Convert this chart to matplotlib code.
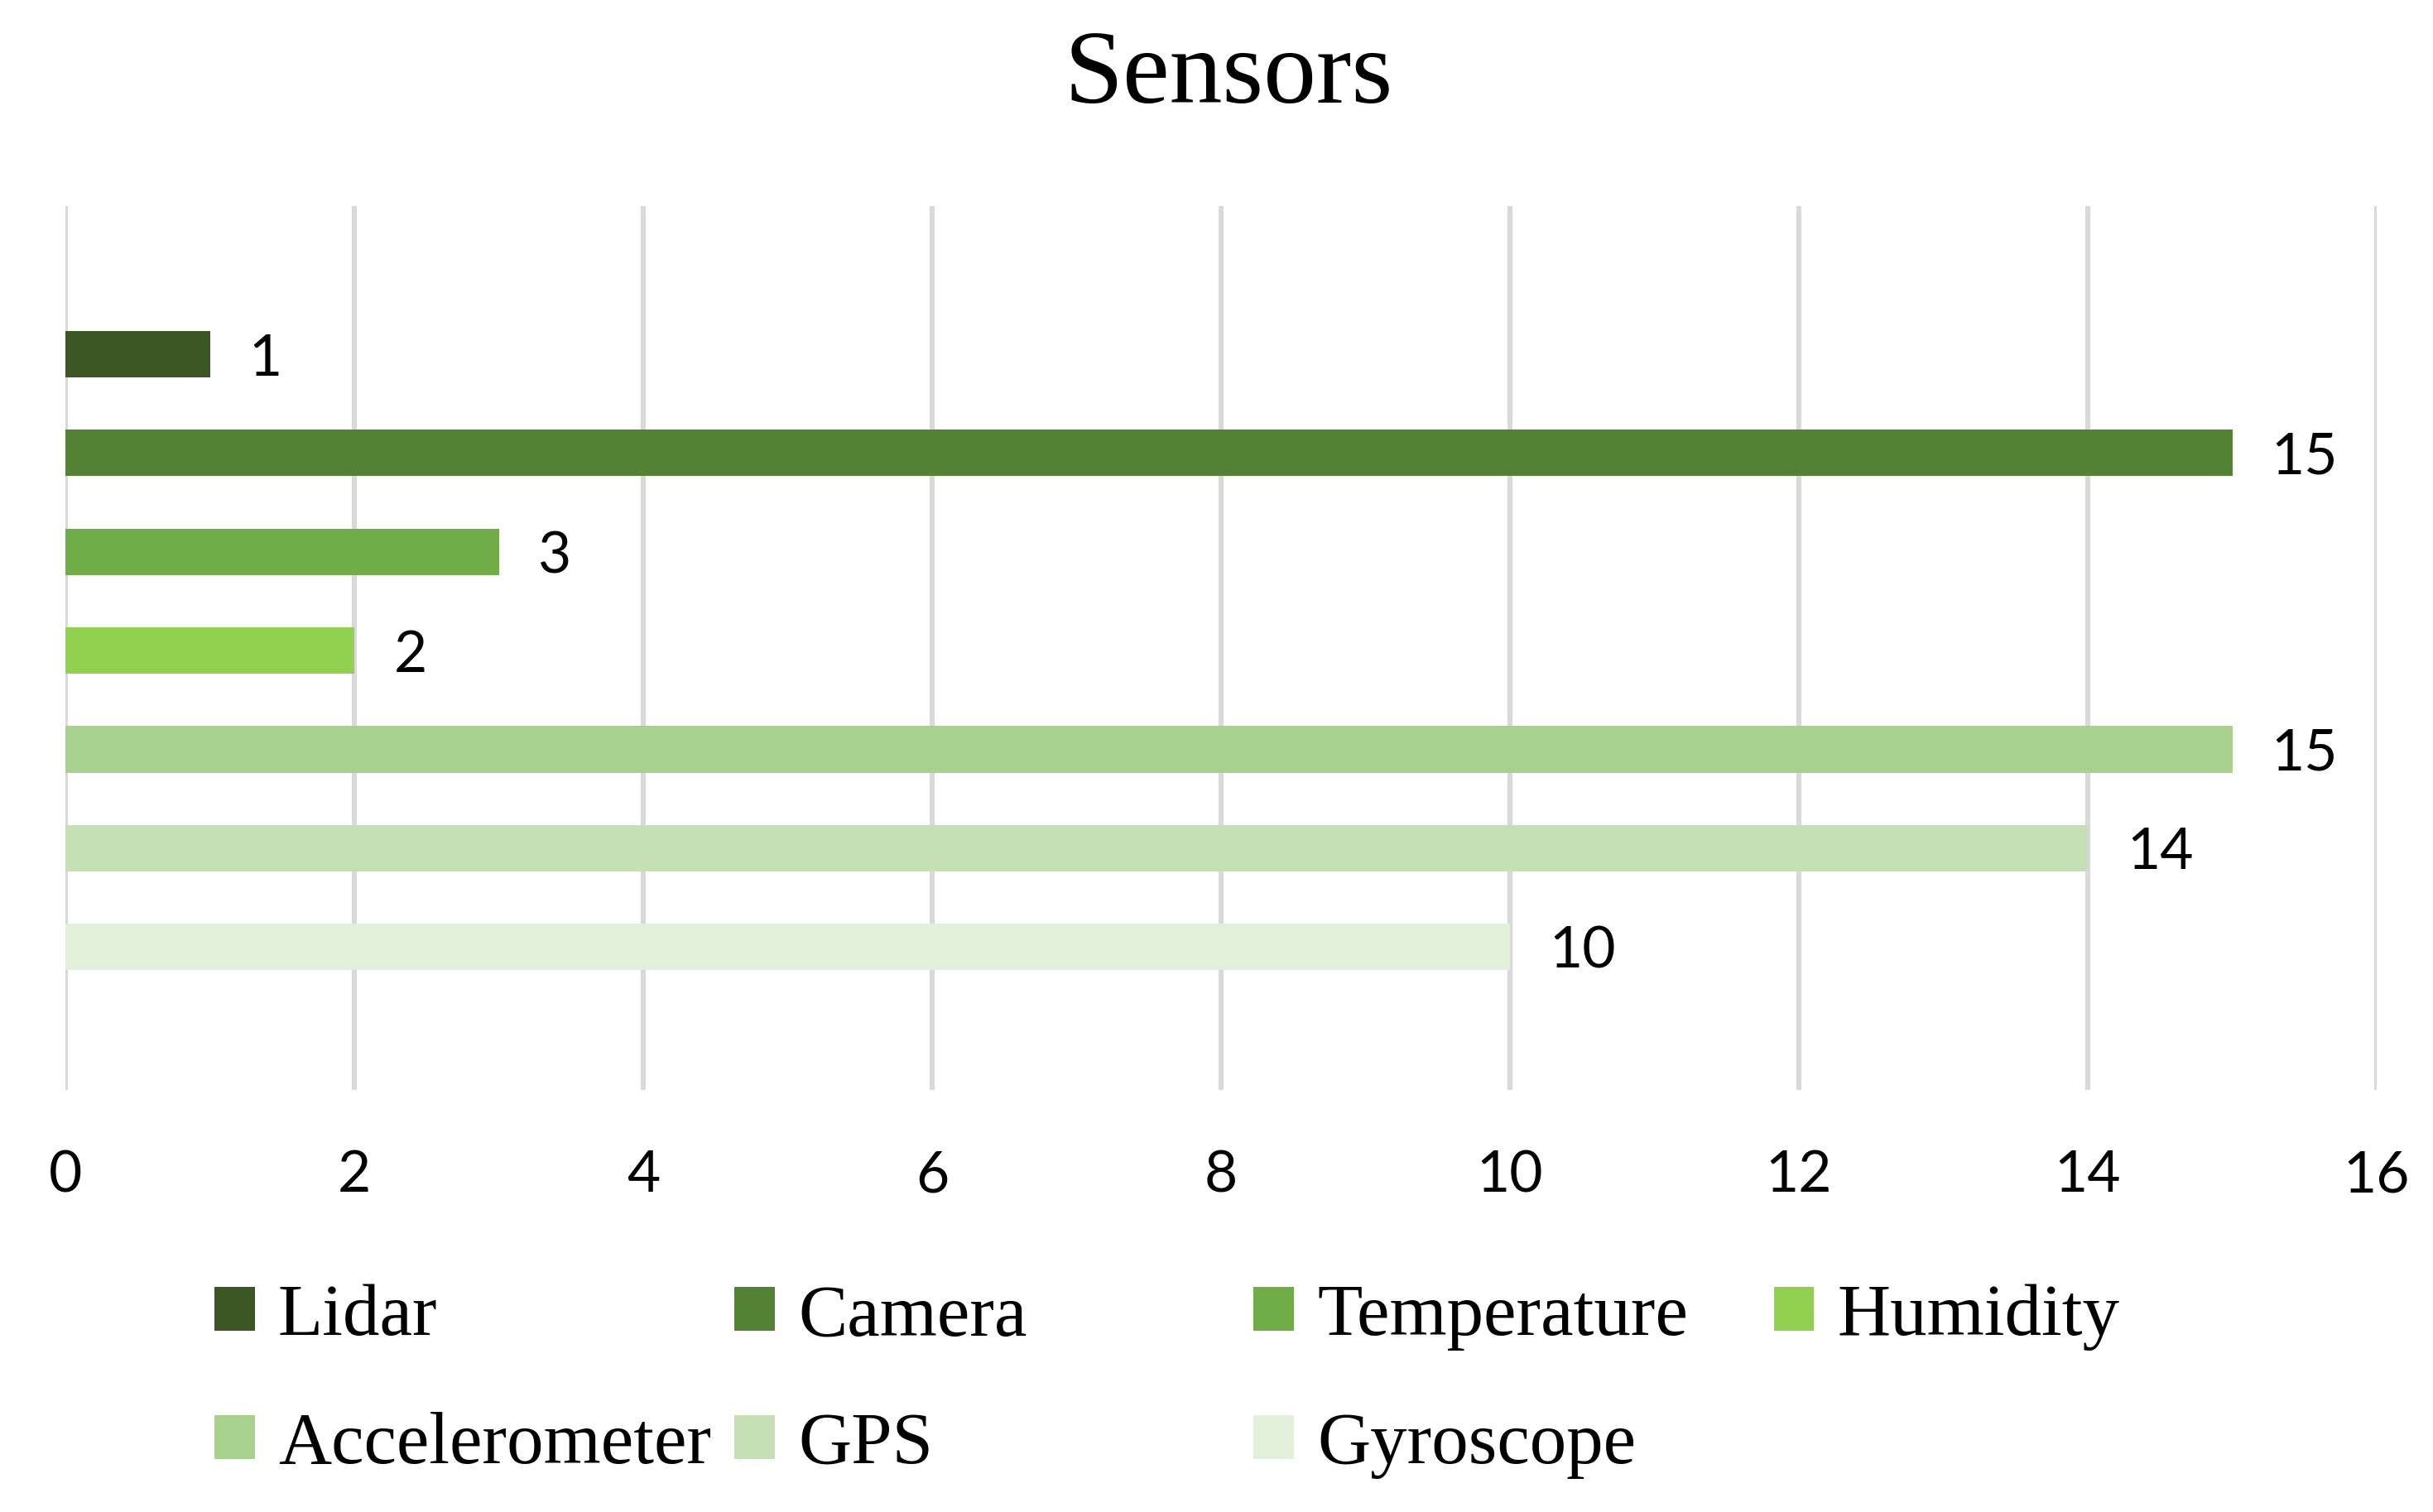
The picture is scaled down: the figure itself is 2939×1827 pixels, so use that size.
import matplotlib
matplotlib.use("Agg")
import matplotlib.pyplot as plt
from matplotlib.patches import Patch

sensors = ["Lidar", "Camera", "Temperature", "Humidity", "Accelerometer", "GPS", "Gyroscope"]
counts = [1, 15, 3, 2, 15, 14, 10]
colors = ["#3b5623", "#548235", "#70ad47", "#92d050", "#a9d18e", "#c5e0b4", "#e2efda"]
xticks = [0, 2, 4, 6, 8, 10, 12, 14, 16]

serif = "Liberation Serif"
sans = "Lato"

fig = plt.figure(figsize=(14.695, 9.135), dpi=200)
ax = fig.add_axes([0.0269, 0.279, 0.95, 0.5847])

pos = list(range(len(sensors)))
bars = ax.barh(pos, counts, height=0.47, color=colors, zorder=3)
lbls = ax.bar_label(bars, labels=[str(c) for c in counts], padding=17,
                    fontsize=25, fontfamily=sans, color="#000000")
for t in lbls:
    t.set_va("center_baseline")

ax.set_xlim(0, 16)
ax.set_ylim(-1.5, 7.45)
ax.invert_yaxis()
ax.set_xticks(xticks)
ax.set_xticklabels([str(t) for t in xticks], fontsize=25, fontfamily=sans)
ax.set_yticks([])
ax.tick_params(axis="x", length=0, pad=26)
ax.grid(axis="x", color="#d9d9d9", linewidth=2.2, zorder=0)
for s in ax.spines.values():
    s.set_visible(False)

fig.text(0.505, 0.949, "Sensors", ha="center", va="center",
         fontsize=46, fontfamily=serif)

# legend: 4 fixed-width columns filled row by row, like the original
col_x = [0.0880, 0.3017, 0.5153, 0.7290]
for c in range(4):
    idx = list(range(c, len(sensors), 4))
    handles = [Patch(facecolor=colors[i], edgecolor="none") for i in idx]
    labels = [sensors[i] for i in idx]
    fig.legend(handles, labels, loc="upper left", bbox_to_anchor=(col_x[c], 0.151),
               frameon=False, borderpad=0, borderaxespad=0,
               handlelength=0.55, handleheight=0.55, handletextpad=0.32,
               labelspacing=0.83, prop={"family": serif, "size": 32})

fig.savefig("out.png", dpi=200, facecolor="white")
